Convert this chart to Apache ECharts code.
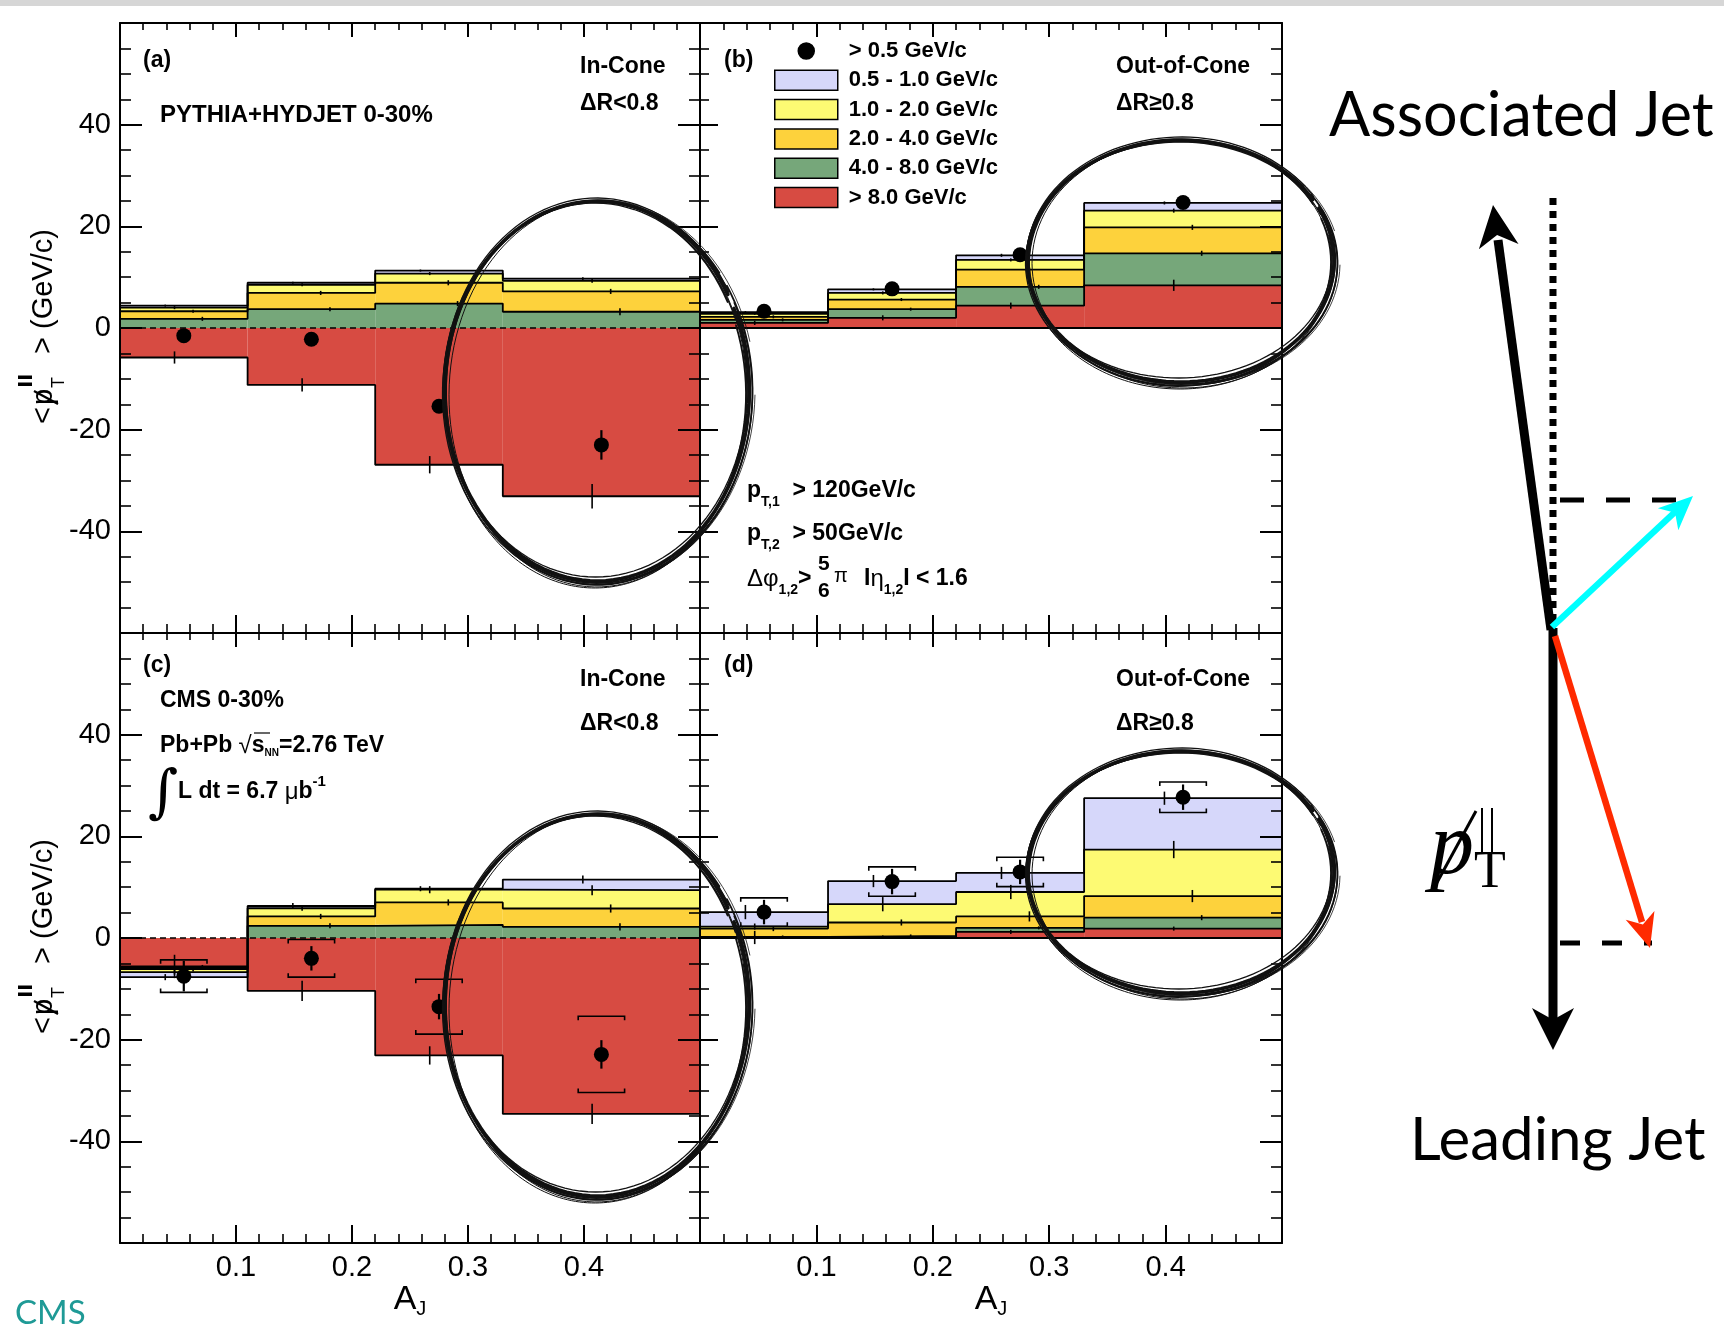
<!DOCTYPE html>
<html><head><meta charset="utf-8">
<script src="https://cdn.jsdelivr.net/npm/echarts@6/dist/echarts.min.js"></script>
<style>html,body{margin:0;padding:0;background:#fff}#c{width:1724px;height:1343px}</style>
</head><body><div id="c"></div>
<script>
// ================= DATA =================
const binEdges = [0, 0.11, 0.22, 0.33, 0.5];
const legendLabels = ['> 0.5 GeV/c', '0.5 - 1.0 GeV/c', '1.0 - 2.0 GeV/c', '2.0 - 4.0 GeV/c', '4.0 - 8.0 GeV/c', '> 8.0 GeV/c'];

// (a) PYTHIA+HYDJET, in-cone
const aRed = [-5.8, -11.2, -26.9, -33.1];
const aGreen = [1.8, 3.7, 4.8, 3.2];
const aOrange = [1.5, 3.2, 4.1, 4.0];
const aYellow = [0.7, 1.6, 1.8, 2.1];
const aLav = [0.4, 0.4, 0.6, 0.4];
const aPoints = [-1.5, -2.2, -15.4, -23.0];
const aStat = [0.4, 0.5, 1.0, 2.9];
const aErrRed = [1.2, 1.3, 1.7, 2.4];
const aErrGreen = [0.4, 0.4, 0.5, 0.7];
const aErrOrange = [0.3, 0.4, 0.5, 0.5];
const aErrYellow = [0.3, 0.3, 0.3, 0.4];
const aErrLav = [0.2, 0.2, 0.2, 0.3];

// (b) PYTHIA+HYDJET, out-of-cone
const bRed = [1.0, 2.0, 4.4, 8.4];
const bGreen = [0.6, 1.7, 3.7, 6.3];
const bOrange = [0.6, 1.9, 3.4, 5.1];
const bYellow = [0.6, 1.3, 1.9, 3.3];
const bLav = [0.3, 0.7, 0.9, 1.5];
const bPoints = [3.3, 7.7, 14.4, 24.7];
const bStat = [0.3, 0.4, 0.5, 0.6];
const bErrRed = [0.4, 0.5, 0.6, 1.1];
const bErrGreen = [0.3, 0.3, 0.4, 0.5];
const bErrOrange = [0.3, 0.3, 0.4, 0.5];
const bErrYellow = [0.2, 0.3, 0.3, 0.4];
const bErrLav = [0.2, 0.2, 0.3, 0.3];

// (c) CMS, in-cone
const cRed = [-5.6, -10.4, -23.1, -34.6];
const cGreen = [-0.2, 2.4, 2.6, 2.2];
const cOrange = [-0.3, 1.85, 4.4, 3.6];
const cYellow = [-0.6, 1.6, 2.5, 3.6];
const cLav = [-1.0, 0.45, 0.2, 2.1];
const cPoints = [-7.5, -4.0, -13.5, -22.9];
const cStat = [3.0, 2.4, 2.5, 2.8];
const cSys = [3.2, 3.7, 5.4, 7.5];
const cErrRed = [2.3, 2.0, 1.8, 2.0];
const cErrGreen = [0.5, 0.5, 0.6, 0.7];
const cErrOrange = [0.5, 0.5, 0.6, 0.8];
const cErrYellow = [0.5, 0.5, 0.7, 1.0];
const cErrLav = [0.6, 0.6, 0.5, 0.8];

// (d) CMS, out-of-cone
const dRed = [0.1, 0.2, 1.2, 1.85];
const dGreen = [0.1, 0.2, 0.8, 2.15];
const dOrange = [1.65, 2.65, 2.25, 4.25];
const dYellow = [0.4, 3.6, 4.8, 9.15];
const dLav = [2.85, 4.55, 3.75, 10.1];
const dPoints = [5.1, 11.1, 13.0, 27.7];
const dStat = [2.4, 2.5, 2.4, 2.5];
const dSys = [2.8, 2.9, 2.9, 3.0];
const dErrRed = [1.3, 0.3, 0.4, 0.4];
const dErrGreen = [0.3, 0.3, 0.3, 0.5];
const dErrOrange = [0.5, 0.6, 1.0, 1.2];
const dErrYellow = [0.6, 1.4, 1.4, 1.7];
const dErrLav = [1.4, 1.2, 1.2, 1.3];

// ================= STYLE / LAYOUT =================
const FONT = '"Liberation Sans", Arial, Helvetica, sans-serif';
const compColors = ['#d74b42', '#76a77a', '#fdd23c', '#fdfa73', '#d6d7fa']; // red, green, orange, yellow, lavender
const compLegend = [5, 4, 3, 2, 1]; // index into legendLabels
const tickOffsets = [-0.008, 0.016, 0.008, -0.008, -0.016];
const grids = [
  {left: 120, top: 23, width: 580, height: 610},
  {left: 700, top: 23, width: 582, height: 610},
  {left: 120, top: 633, width: 580, height: 610},
  {left: 700, top: 633, width: 582, height: 610}
];
const panels = [
  {comps: [aRed, aGreen, aOrange, aYellow, aLav], errs: [aErrRed, aErrGreen, aErrOrange, aErrYellow, aErrLav], pts: aPoints, stat: aStat, sys: null, dash: true},
  {comps: [bRed, bGreen, bOrange, bYellow, bLav], errs: [bErrRed, bErrGreen, bErrOrange, bErrYellow, bErrLav], pts: bPoints, stat: bStat, sys: null, dash: false},
  {comps: [cRed, cGreen, cOrange, cYellow, cLav], errs: [cErrRed, cErrGreen, cErrOrange, cErrYellow, cErrLav], pts: cPoints, stat: cStat, sys: cSys, dash: true},
  {comps: [dRed, dGreen, dOrange, dYellow, dLav], errs: [dErrRed, dErrGreen, dErrOrange, dErrYellow, dErrLav], pts: dPoints, stat: dStat, sys: dSys, dash: false}
];

const nb = binEdges.length - 1;
const centers = [];
for (let i = 0; i < nb; i++) centers.push((binEdges[i] + binEdges[i + 1]) / 2);

// ================= AXES =================
const xAxes = [], yAxes = [];
grids.forEach((gr, g) => {
  const bottomRow = g >= 2;
  const baseX = {
    type: 'value', gridIndex: g, min: 0, max: 0.5, interval: 0.1, z: 10,
    axisLine: {show: true, onZero: false, lineStyle: {color: '#000', width: 2}},
    splitLine: {show: false}, minorSplitLine: {show: false}
  };
  xAxes.push(Object.assign({}, baseX, {
    position: 'bottom',
    axisTick: {show: true, inside: true, length: 18, lineStyle: {color: '#000', width: 2}},
    minorTick: {show: true, splitNumber: 5, length: 9, lineStyle: {color: '#000', width: 1.6}},
    axisLabel: {show: bottomRow, margin: 10, fontSize: 29, fontFamily: FONT, color: '#000', showMinLabel: false, showMaxLabel: false},
    name: bottomRow ? '{a|A}{s|J}' : '', nameLocation: 'middle', nameGap: 34,
    nameTextStyle: {rich: {
      a: {fontSize: 34, fontFamily: FONT, color: '#000', lineHeight: 40, verticalAlign: 'middle'},
      s: {fontSize: 20, fontFamily: FONT, color: '#000', lineHeight: 20, verticalAlign: 'bottom'}
    }}
  }));
  xAxes.push(Object.assign({}, baseX, {
    position: 'top',
    axisTick: {show: true, inside: true, length: 14, lineStyle: {color: '#000', width: 2}},
    minorTick: {show: true, splitNumber: 5, length: 7, lineStyle: {color: '#000', width: 1.6}},
    axisLabel: {show: false}
  }));
  const baseY = {
    type: 'value', gridIndex: g, min: -60, max: 60, interval: 20, z: 10,
    axisLine: {show: true, onZero: false, lineStyle: {color: '#000', width: 2}},
    splitLine: {show: false}, minorSplitLine: {show: false}
  };
  const leftLong = (g % 2 === 0);
  yAxes.push(Object.assign({}, baseY, {
    position: 'left',
    axisTick: {show: true, inside: true, length: leftLong ? 22 : 18, lineStyle: {color: '#000', width: 2}},
    minorTick: {show: true, splitNumber: 4, length: leftLong ? 11 : 9, lineStyle: {color: '#000', width: 1.6}},
    axisLabel: {show: leftLong, margin: 9, fontSize: 29, fontFamily: FONT, color: '#000', showMinLabel: false, showMaxLabel: false}
  }));
  yAxes.push(Object.assign({}, baseY, {
    position: 'right',
    axisTick: {show: true, inside: true, length: 22, lineStyle: {color: '#000', width: 2}},
    minorTick: {show: true, splitNumber: 4, length: 11, lineStyle: {color: '#000', width: 1.6}},
    axisLabel: {show: false}
  }));
});

// ================= SERIES =================
function renderBar(params, api) {
  const lo = api.value(0), hi = api.value(1), b = api.value(2), t = api.value(3);
  const p1 = api.coord([lo, Math.max(b, t)]);
  const p2 = api.coord([hi, Math.min(b, t)]);
  return {type: 'rect', shape: {x: p1[0], y: p1[1], width: p2[0] - p1[0], height: p2[1] - p1[1]},
    style: {fill: api.visual('color'), stroke: null}};
}
function renderVErr(width) {
  return function (params, api) {
    const x = api.value(0), y = api.value(1), e = api.value(2);
    const a = api.coord([x, y - e]), b = api.coord([x, y + e]);
    return {type: 'line', shape: {x1: a[0], y1: a[1], x2: b[0], y2: b[1]}, style: {stroke: '#000', lineWidth: width}};
  };
}
function renderSys(params, api) {
  const x = api.value(0), y = api.value(1), s = api.value(2);
  const hw = 0.02;
  const tl = api.coord([x - hw, y + s]), tr = api.coord([x + hw, y + s]);
  const bl = api.coord([x - hw, y - s]), br = api.coord([x + hw, y - s]);
  const k = 4;
  return {type: 'group', children: [
    {type: 'polyline', shape: {points: [[tl[0], tl[1] + k], tl, tr, [tr[0], tr[1] + k]]}, style: {stroke: '#000', lineWidth: 1.6, fill: null}},
    {type: 'polyline', shape: {points: [[bl[0], bl[1] - k], bl, br, [br[0], br[1] - k]]}, style: {stroke: '#000', lineWidth: 1.6, fill: null}}
  ]};
}

const series = [];
panels.forEach((P, g) => {
  const xi = 2 * g, yi = 2 * g;
  const pos = new Array(nb).fill(0), neg = new Array(nb).fill(0);
  const outlines = [];
  const errPts = [];
  P.comps.forEach((vals, k) => {
    const bars = [], outer = [];
    for (let i = 0; i < nb; i++) {
      const v = vals[i];
      let base, top;
      if (v >= 0) { base = pos[i]; top = pos[i] + v; pos[i] = top; }
      else { base = neg[i]; top = neg[i] + v; neg[i] = top; }
      bars.push([binEdges[i], binEdges[i + 1], base, top]);
      outer.push(top);
      errPts.push([centers[i] + tickOffsets[k], top, P.errs[k][i]]);
    }
    series.push({
      type: 'custom', name: legendLabels[compLegend[k]], xAxisIndex: xi, yAxisIndex: yi,
      itemStyle: {color: compColors[k]}, renderItem: renderBar, clip: true, z: 2,
      encode: {x: [0, 1], y: [2, 3]}, data: bars, silent: true
    });
    const step = [];
    for (let i = 0; i < nb; i++) { step.push([binEdges[i], outer[i]]); step.push([binEdges[i + 1], outer[i]]); }
    outlines.push(step);
  });
  outlines.forEach(step => series.push({
    type: 'line', xAxisIndex: xi, yAxisIndex: yi, data: step, symbol: 'none', silent: true, z: 3,
    lineStyle: {color: '#000', width: 1.8}, clip: true
  }));
  series.push({
    type: 'line', xAxisIndex: xi, yAxisIndex: yi, data: [[0, 0], [0.5, 0]], symbol: 'none', silent: true, z: 3,
    lineStyle: {color: '#000', width: P.dash ? 1.5 : 2.2, type: P.dash ? [6, 4] : 'solid'}
  });
  series.push({
    type: 'custom', xAxisIndex: xi, yAxisIndex: yi, renderItem: renderVErr(1.6), data: errPts, z: 4, silent: true,
    encode: {x: 0, y: 1}
  });
  if (P.sys) {
    series.push({
      type: 'custom', xAxisIndex: xi, yAxisIndex: yi, renderItem: renderSys, z: 5, silent: true,
      data: centers.map((c, i) => [c, P.pts[i], P.sys[i]]), encode: {x: 0, y: 1}
    });
  }
  series.push({
    type: 'custom', xAxisIndex: xi, yAxisIndex: yi, renderItem: renderVErr(2.2), z: 5, silent: true,
    data: centers.map((c, i) => [c, P.pts[i], P.stat[i]]), encode: {x: 0, y: 1}
  });
  series.push({
    type: 'scatter', name: legendLabels[0], xAxisIndex: xi, yAxisIndex: yi, symbol: 'circle', symbolSize: 15, z: 6,
    itemStyle: {color: '#000', opacity: 1}, data: centers.map((c, i) => [c, P.pts[i]]), silent: true
  });
});

// ================= GRAPHICS (annotations, diagram) =================
function txt(x, y, text, size, bold, extra) {
  return {type: 'text', x: x, y: y, z: 50, silent: true, style: Object.assign({
    text: text, fill: '#000', fontSize: size, fontWeight: bold ? 'bold' : 'normal', fontFamily: FONT,
    verticalAlign: 'middle', align: 'left'}, extra || {})};
}
function richTxt(x, y, text, rich) {
  return {type: 'text', x: x, y: y, z: 50, silent: true, style: {text: text, rich: rich, verticalAlign: 'middle', align: 'left', fill: '#000'}};
}
const R = {
  b: {fontSize: 23, fontWeight: 'bold', fontFamily: FONT, lineHeight: 36, verticalAlign: 'middle', color: '#000'},
  r: {fontSize: 24, fontFamily: FONT, lineHeight: 36, verticalAlign: 'middle', color: '#000'},
  s: {fontSize: 14, fontWeight: 'bold', fontFamily: FONT, lineHeight: 14, verticalAlign: 'bottom', color: '#000'},
  t: {fontSize: 10, fontWeight: 'bold', fontFamily: FONT, lineHeight: 10, verticalAlign: 'bottom', color: '#000', padding: [0, 0, 6, 0]},
  p: {fontSize: 15, fontWeight: 'bold', fontFamily: FONT, lineHeight: 15, verticalAlign: 'top', color: '#000'}
};

function arrowHead(tip, from, len, hw, notch) {
  const dx = tip[0] - from[0], dy = tip[1] - from[1];
  const L = Math.hypot(dx, dy), ux = dx / L, uy = dy / L, nx = -uy, ny = ux;
  const bx = tip[0] - ux * len, by = tip[1] - uy * len;
  const cx = tip[0] - ux * len * notch, cy = tip[1] - uy * len * notch;
  return [tip, [bx + nx * hw, by + ny * hw], [cx, cy], [bx - nx * hw, by - ny * hw]];
}
function ellipsePts(cx, cy, rx, ry, rot, t0, t1) {
  const pts = [];
  for (let i = 0; i <= 120; i++) {
    const t = t0 + (t1 - t0) * i / 120;
    const x = rx * Math.cos(t), y = ry * Math.sin(t);
    pts.push([cx + x * Math.cos(rot) - y * Math.sin(rot), cy + x * Math.sin(rot) + y * Math.cos(rot)]);
  }
  return pts;
}
// [dx, dy, drx, dry, drot, width, startAngle, endAngle]
const sketchStrokes = [
  [0, 0, 0, 0, 0, 3.6, -0.45, 5.75],
  [1.5, 1, 2, 1, 0.012, 1.8, -0.6, 5.6],
  [-1, 2, -2, 2, -0.014, 1.8, -0.35, 5.8],
  [0.5, 2.5, 3, 1, 0.006, 1.3, -0.5, 5.7],
  [-2, -1, 0, -3, -0.01, 1.3, -0.2, 5.9],
  [1, 3, -3, 3, 0.018, 1.0, -0.7, 5.5],
  [0, -1.5, 1.5, 1.5, -0.005, 1.3, -0.4, 5.75],
  [2, 1, 4, 2, 0.02, 0.8, 0.0, 6.0],
  [-1.5, 3, -1, 4, 0.008, 1.0, 0.2, 3.4]
];
const ellipses = [[597, 391, 152, 190], [1181, 261, 153, 121], [597, 1005, 152, 191], [1181, 872, 153, 121]];

const graphics = [];
graphics.push({type: 'rect', z: 60, silent: true, shape: {x: 0, y: 0, width: 1724, height: 6}, style: {fill: '#d6d6d6'}});

// panel (a)
graphics.push(txt(143, 61, '(a)', 23, true));
graphics.push(txt(580, 67, 'In-Cone', 23, true));
graphics.push(txt(580, 103.5, 'ΔR<0.8', 23, true));
graphics.push(txt(160, 115.5, 'PYTHIA+HYDJET 0-30%', 24, true));
// panel (b)
graphics.push(txt(724, 61, '(b)', 23, true));
graphics.push(txt(1116, 67, 'Out-of-Cone', 23, true));
graphics.push(txt(1116, 103.5, 'ΔR≥0.8', 23, true));
graphics.push(richTxt(747, 491, '{b|p}{s|T,1}{b|  > 120GeV/c}', R));
graphics.push(richTxt(747, 534, '{b|p}{s|T,2}{b|  > 50GeV/c}', R));
graphics.push(richTxt(747, 579, '{r|Δφ}{s|1,2}{b|>}', R));
graphics.push(txt(818, 564, '5', 21, true));
graphics.push(txt(818, 591, '6', 21, true));
graphics.push(txt(834, 576, 'π', 20, false));
graphics.push(richTxt(864, 579, '{b|I}{r|η}{s|1,2}{b|I < 1.6}', R));
// panel (c)
graphics.push(txt(143, 665.5, '(c)', 23, true));
graphics.push(txt(580, 679.5, 'In-Cone', 23, true));
graphics.push(txt(580, 723.5, 'ΔR<0.8', 23, true));
graphics.push(txt(160, 701, 'CMS 0-30%', 23, true));
graphics.push(richTxt(160, 746, '{b|Pb+Pb }{r|√}{b|s}{t|NN}{b|=2.76 TeV}', R));
graphics.push({type: 'line', z: 50, silent: true, shape: {x1: 254, y1: 733, x2: 270, y2: 733}, style: {stroke: '#000', lineWidth: 1.2}});
graphics.push(txt(148, 796, '∫', 58, false, {fontFamily: '"DejaVu Serif", serif'}));
graphics.push(richTxt(178, 792, '{b|L dt = 6.7 }{r|μ}{b|b}{p|-1}', R));
// panel (d)
graphics.push(txt(724, 665.5, '(d)', 23, true));
graphics.push(txt(1116, 679.5, 'Out-of-Cone', 23, true));
graphics.push(txt(1116, 723.5, 'ΔR≥0.8', 23, true));

// y-axis titles  <p̸_T^∥> (GeV/c)
function yTitle(yMid) {
  const yb = yMid + 96;
  return {type: 'group', x: 44, y: yb, rotation: Math.PI / 2, z: 50, silent: true, children: [
    {type: 'text', x: 0, y: 0, style: {text: '<', fontSize: 29, fontFamily: FONT, fill: '#000', verticalAlign: 'middle'}},
    {type: 'text', x: 19, y: 0, style: {text: 'p', fontSize: 29, fontFamily: FONT, fill: '#000', verticalAlign: 'middle'}},
    {type: 'line', shape: {x1: 20, y1: 14, x2: 33, y2: -10}, style: {stroke: '#000', lineWidth: 2.2}},
    {type: 'rect', shape: {x: 38, y: -26, width: 3.5, height: 14}, style: {fill: '#000'}},
    {type: 'rect', shape: {x: 45, y: -26, width: 3.5, height: 14}, style: {fill: '#000'}},
    {type: 'text', x: 36, y: 15, style: {text: 'T', fontSize: 18, fontFamily: FONT, fill: '#000', verticalAlign: 'middle'}},
    {type: 'text', x: 70, y: 0, style: {text: '> (GeV/c)', fontSize: 29, fontFamily: FONT, fill: '#000', verticalAlign: 'middle'}}
  ]};
}
graphics.push(yTitle(328));
graphics.push(yTitle(938));

// CMS label
graphics.push(txt(15, 1313, 'CMS', 33, false, {fontFamily: 'Lato, "Open Sans", sans-serif', fill: '#1f9a96'}));

// right-hand diagram
const GILL = 'Lato, "Open Sans", sans-serif';
graphics.push(txt(1329, 116, 'Associated Jet', 61, false, {fontFamily: GILL}));
graphics.push(txt(1410, 1141, 'Leading Jet', 60, false, {fontFamily: GILL}));
// dotted vertical
graphics.push({type: 'line', z: 40, silent: true, shape: {x1: 1553, y1: 198, x2: 1553, y2: 627}, style: {stroke: '#000', lineWidth: 7, lineDash: [7, 6]}});
// dashed horizontals
graphics.push({type: 'line', z: 40, silent: true, shape: {x1: 1560, y1: 500, x2: 1690, y2: 500}, style: {stroke: '#000', lineWidth: 5, lineDash: [24, 22]}});
graphics.push({type: 'line', z: 40, silent: true, shape: {x1: 1560, y1: 943, x2: 1652, y2: 943}, style: {stroke: '#000', lineWidth: 5, lineDash: [20, 22]}});
// associated jet arrow
graphics.push({type: 'line', z: 41, silent: true, shape: {x1: 1551, y1: 630, x2: 1498, y2: 240}, style: {stroke: '#000', lineWidth: 9}});
graphics.push({type: 'polygon', z: 41, silent: true, shape: {points: arrowHead([1493, 205], [1551, 630], 42, 20, 0.72)}, style: {fill: '#000'}});
// leading jet arrow
graphics.push({type: 'line', z: 41, silent: true, shape: {x1: 1553, y1: 628, x2: 1553, y2: 1020}, style: {stroke: '#000', lineWidth: 9}});
graphics.push({type: 'polygon', z: 41, silent: true, shape: {points: arrowHead([1553, 1050], [1553, 628], 42, 21, 0.72)}, style: {fill: '#000'}});
// cyan arrow
graphics.push({type: 'line', z: 42, silent: true, shape: {x1: 1552, y1: 627, x2: 1675, y2: 512}, style: {stroke: '#00ffff', lineWidth: 6.5}});
graphics.push({type: 'polygon', z: 42, silent: true, shape: {points: arrowHead([1693, 496], [1552, 627], 34, 15, 0.72)}, style: {fill: '#00ffff'}});
// red arrow
graphics.push({type: 'line', z: 42, silent: true, shape: {x1: 1555, y1: 636, x2: 1642, y2: 922}, style: {stroke: '#ff2a00', lineWidth: 6.5}});
graphics.push({type: 'polygon', z: 42, silent: true, shape: {points: arrowHead([1650, 948], [1555, 636], 34, 15, 0.72)}, style: {fill: '#ff2a00'}});
// symbol  p̸_T^∥
graphics.push(txt(1430, 850, 'p', 88, false, {fontFamily: '"Liberation Serif", "DejaVu Serif", serif', fontStyle: 'italic'}));
graphics.push({type: 'line', z: 50, silent: true, shape: {x1: 1434, y1: 888, x2: 1476, y2: 811}, style: {stroke: '#000', lineWidth: 3}});
graphics.push({type: 'line', z: 50, silent: true, shape: {x1: 1482, y1: 808, x2: 1482, y2: 852}, style: {stroke: '#000', lineWidth: 2}});
graphics.push({type: 'line', z: 50, silent: true, shape: {x1: 1492, y1: 808, x2: 1492, y2: 852}, style: {stroke: '#000', lineWidth: 2}});
graphics.push(txt(1474, 873, 'T', 52, false, {fontFamily: '"Liberation Serif", "DejaVu Serif", serif'}));

// hand-drawn ellipses
ellipses.forEach(e => {
  sketchStrokes.forEach(s => {
    graphics.push({type: 'polyline', z: 70, silent: true,
      shape: {points: ellipsePts(e[0] + s[0], e[1] + s[1], e[2] + s[2], e[3] + s[3], s[4], s[6], s[7])},
      style: {stroke: '#111', lineWidth: s[5], fill: null, lineCap: 'round'}});
  });
});

// ================= CHART =================
const chart = echarts.init(document.getElementById('c'), null, {renderer: 'canvas', width: 1724, height: 1343});
chart.setOption({
  animation: false,
  backgroundColor: '#fff',
  grid: grids.map(g => Object.assign({containLabel: false}, g)),
  xAxis: xAxes,
  yAxis: yAxes,
  legend: {
    show: true, orient: 'vertical', left: 774, top: 40, padding: 0, itemWidth: 63, itemHeight: 20, itemGap: 7.3,
    selectedMode: false, z: 20,
    itemStyle: {borderColor: '#000', borderWidth: 1.5},
    textStyle: {fontFamily: FONT, fontWeight: 'bold', fontSize: 22, color: '#000', lineHeight: 20, padding: [0, 0, 0, 6]},
    data: legendLabels.map((n, i) => ({name: n, icon: i === 0 ? 'path://M0,0M20,20M10,2A8,8,0,1,1,10,18A8,8,0,1,1,10,2Z' : 'rect'}))
  },
  series: series,
  graphic: graphics
});
</script>
</body></html>
